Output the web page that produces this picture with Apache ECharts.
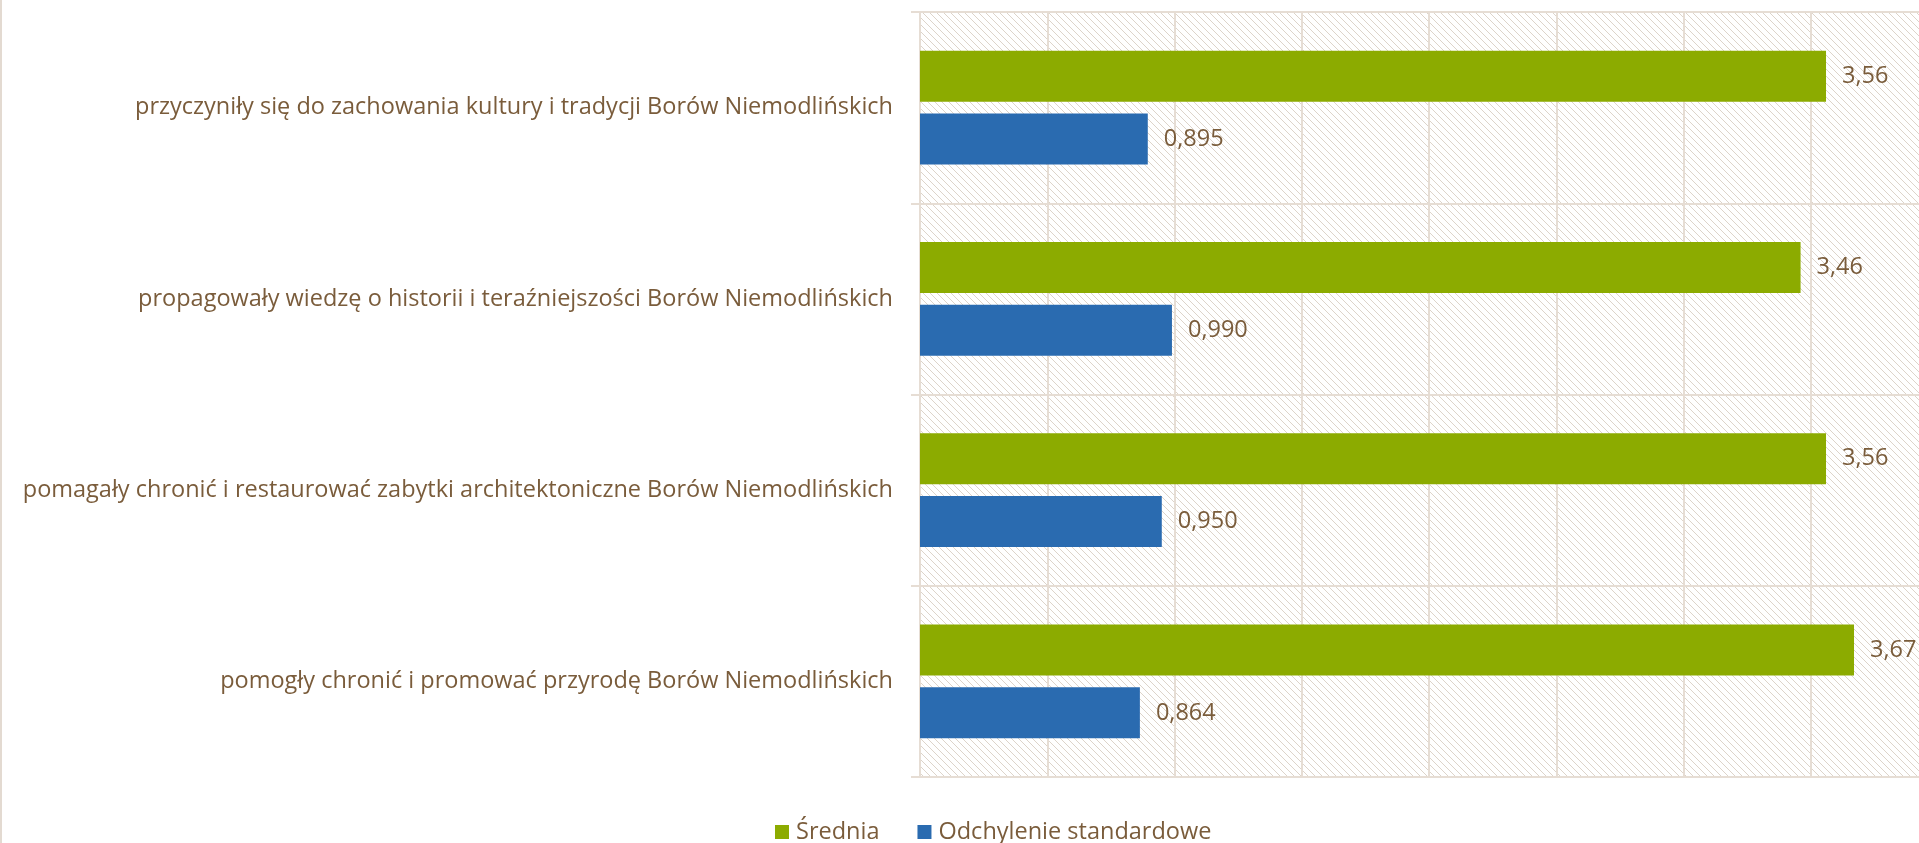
<!DOCTYPE html>
<html>
<head>
<meta charset="utf-8">
<script src="https://cdn.jsdelivr.net/npm/echarts@6/dist/echarts.min.js"></script>
<style>
  html, body { margin: 0; padding: 0; background: #fff; }
  #chart { width: 1919px; height: 843px; }
</style>
</head>
<body>
<div id="chart"></div>
<script>
// dane z wykresu
var categories = [
  "przyczyniły się do zachowania kultury i tradycji Borów Niemodlińskich",
  "propagowały wiedzę o historii i teraźniejszości Borów Niemodlińskich",
  "pomagały chronić i restaurować zabytki architektoniczne Borów Niemodlińskich",
  "pomogły chronić i promować przyrodę Borów Niemodlińskich"
];
var srednia = [3.56, 3.46, 3.56, 3.67];
var odchylenie = [0.895, 0.990, 0.950, 0.864];
var seriesNames = ["Średnia", "Odchylenie standardowe"];

(function () {
  var textColor = "#7a5c3b";
  var lineColor = "#e6ddd4";
  var font = "'Open Sans', sans-serif";
  var fontSize = 23.5;

  // tło w ukośne kreski
  var n = 7;
  var tile = document.createElement("canvas");
  tile.width = n;
  tile.height = n;
  var ctx = tile.getContext("2d");
  ctx.fillStyle = "#ffffff";
  ctx.fillRect(0, 0, n, n);
  ctx.fillStyle = "#ddd4ca";
  for (var i = 0; i < n; i++) {
    ctx.fillRect(i, i, 1, 1);
  }

  var myChart = echarts.init(document.getElementById("chart"));

  function fmt(d) {
    return function (p) {
      return p.value.toFixed(d).replace(".", ",");
    };
  }

  var option = {
    color: ["#8cab00", "#2a6bb0"],
    textStyle: { fontFamily: font },
    grid: {
      left: 920,
      top: 12,
      width: 1018,
      height: 765,
      outerBoundsMode: "none",
      show: true,
      borderWidth: 0,
      backgroundColor: { image: tile, repeat: "repeat" }
    },
    legend: {
      data: seriesNames,
      left: 770,
      top: 815,
      icon: "rect",
      itemWidth: 14,
      itemHeight: 14,
      itemGap: 38,
      textStyle: { color: textColor, fontSize: fontSize, fontFamily: font, padding: [0, 0, 0, 2] }
    },
    xAxis: {
      type: "value",
      min: 0,
      max: 4,
      interval: 0.5,
      axisLabel: { show: false },
      axisLine: { show: false },
      axisTick: { show: false },
      splitLine: { lineStyle: { color: lineColor, width: 2 } }
    },
    yAxis: {
      type: "category",
      data: categories,
      inverse: true,
      axisLine: { lineStyle: { color: lineColor, width: 2 } },
      axisTick: { show: true, length: 9, lineStyle: { color: lineColor, width: 2 } },
      splitLine: { show: true, lineStyle: { color: lineColor, width: 2 } },
      axisLabel: { color: textColor, fontSize: fontSize, fontFamily: font, margin: 27 }
    },
    series: [
      {
        name: seriesNames[0],
        type: "bar",
        barWidth: 51,
        barGap: "23.5%",
        data: srednia,
        label: {
          show: true,
          position: "right",
          distance: 16,
          color: textColor,
          fontSize: fontSize,
          fontFamily: font,
          formatter: fmt(2)
        }
      },
      {
        name: seriesNames[1],
        type: "bar",
        barWidth: 51,
        barGap: "23.5%",
        data: odchylenie,
        label: {
          show: true,
          position: "right",
          distance: 16,
          color: textColor,
          fontSize: fontSize,
          fontFamily: font,
          formatter: fmt(3)
        }
      }
    ],
    graphic: [
      {
        type: "line",
        shape: { x1: 1, y1: 0, x2: 1, y2: 843 },
        style: { stroke: "#e3dad1", lineWidth: 2 },
        silent: true
      }
    ]
  };

  myChart.setOption(option);

  window.addEventListener("resize", function () {
    myChart.resize();
  });
})();
</script>
</body>
</html>
